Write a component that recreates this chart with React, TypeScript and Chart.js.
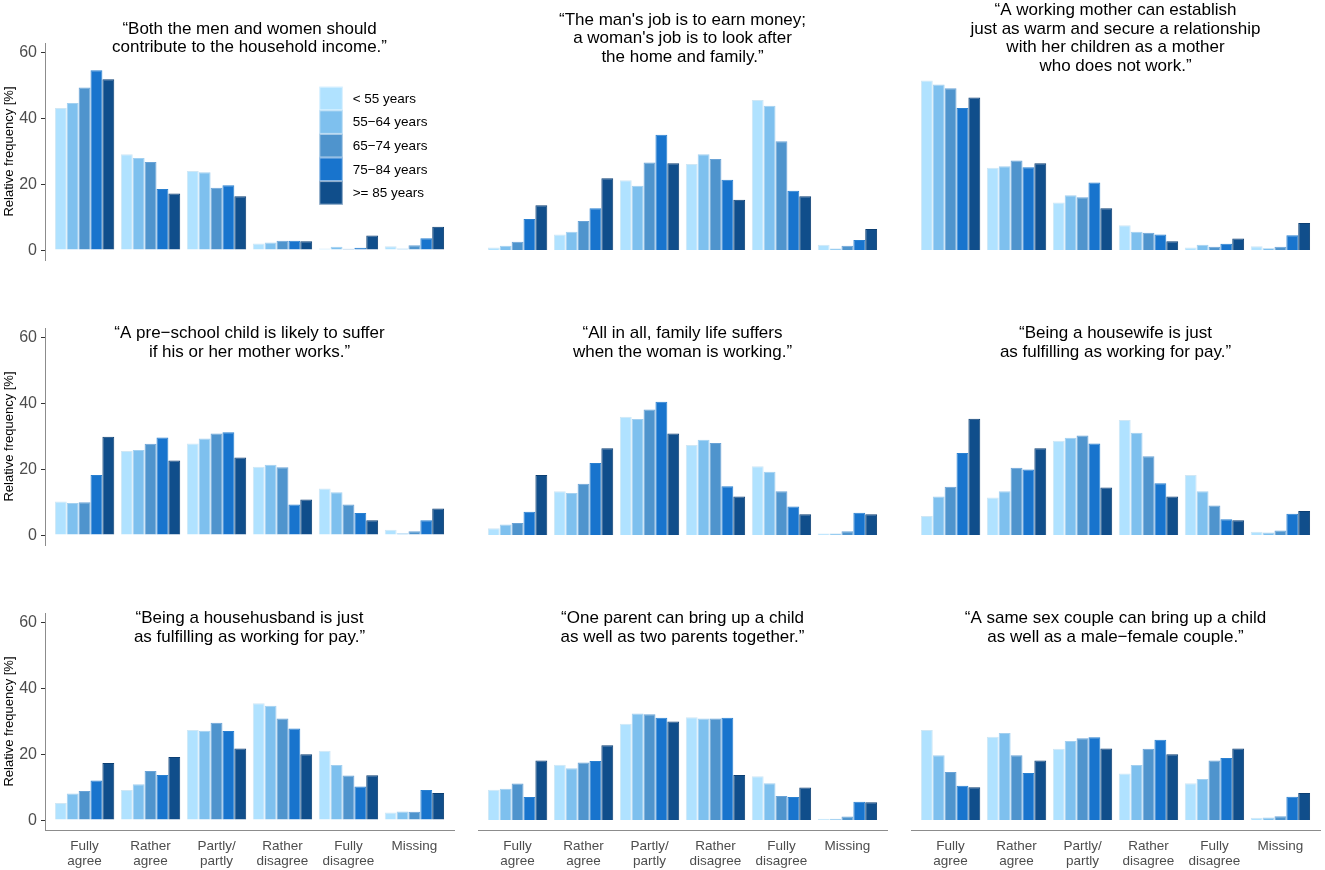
import React, { useEffect, useRef } from "react";
import { Chart, registerables } from "chart.js";

Chart.register(...registerables);

const FONT = '"Liberation Sans", Arial, Helvetica, sans-serif';
Chart.defaults.font.family = FONT;

const categories: string[][] = [
  ["Fully", "agree"],
  ["Rather", "agree"],
  ["Partly/", "partly"],
  ["Rather", "disagree"],
  ["Fully", "disagree"],
  ["Missing"],
];
const ageGroups = ["< 55 years", "55\u221264 years", "65\u221274 years", "75\u221284 years", ">= 85 years"];
const ageColors = ["#B0E2FF", "#7EC0EE", "#4F94CD", "#1874CD", "#104E8B"];
const ageBorders = ["#cfe7f5", "#a3d0f0", "#6aa3d6", "#2a80d0", "#0c3f73"];
const yTicks = [0, 20, 40, 60];
const yMin = -3;
const yMax = 62.8;

// rows = answer categories (Fully agree ... Missing), columns = age groups (<55 ... >=85)
const q1 = [
  [43.1, 44.6, 49.3, 54.5, 51.8],
  [29.1, 27.9, 26.7, 18.5, 17.2],
  [24.0, 23.6, 18.9, 19.7, 16.3],
  [2.0, 2.3, 2.8, 2.8, 2.7],
  [0.5, 1.0, 0.4, 0.7, 4.4],
  [1.2, 0.5, 1.5, 3.6, 7.1],
];
const q2 = [
  [0.8, 1.3, 2.5, 9.4, 13.6],
  [4.7, 5.6, 8.8, 12.7, 21.8],
  [21.2, 19.5, 26.6, 35.0, 26.3],
  [26.1, 29.1, 27.6, 21.3, 15.3],
  [45.5, 43.8, 33.0, 18.0, 16.3],
  [1.6, 0.5, 1.3, 3.1, 6.4],
];
const q3 = [
  [51.4, 50.2, 49.1, 43.1, 46.3],
  [25.0, 25.4, 27.2, 25.1, 26.3],
  [14.4, 16.6, 16.0, 20.5, 12.7],
  [7.5, 5.6, 5.3, 4.7, 2.7],
  [0.8, 1.6, 1.0, 1.9, 3.5],
  [1.2, 0.6, 1.0, 4.5, 8.2],
];
const q4 = [
  [10.2, 9.7, 10.0, 18.2, 29.8],
  [25.5, 25.8, 27.7, 29.6, 22.6],
  [27.8, 29.3, 30.8, 31.2, 23.5],
  [20.7, 21.3, 20.6, 9.3, 10.8],
  [14.1, 13.0, 9.3, 6.7, 4.5],
  [1.6, 0.6, 1.2, 4.5, 8.1],
];
const q5 = [
  [2.1, 3.2, 3.7, 7.1, 18.2],
  [13.3, 12.8, 15.6, 21.9, 26.3],
  [35.9, 35.2, 38.1, 40.4, 30.8],
  [27.3, 28.9, 27.9, 14.8, 11.7],
  [20.9, 19.2, 13.3, 8.7, 6.3],
  [0.5, 0.5, 1.2, 6.8, 6.3],
];
const q6 = [
  [5.8, 11.7, 14.7, 24.9, 35.3],
  [11.4, 13.3, 20.4, 19.9, 26.3],
  [28.6, 29.5, 30.2, 27.8, 14.4],
  [34.9, 31.0, 23.9, 15.7, 11.7],
  [18.2, 13.3, 9.0, 4.8, 4.5],
  [1.0, 0.8, 1.4, 6.5, 7.3],
];
const q7 = [
  [5.2, 8.1, 8.8, 12.0, 17.3],
  [9.1, 10.9, 14.9, 13.7, 19.1],
  [27.3, 27.1, 29.5, 27.0, 21.7],
  [35.4, 34.7, 30.8, 27.8, 20.0],
  [21.0, 16.7, 13.5, 10.2, 13.6],
  [2.3, 2.6, 2.5, 9.1, 8.2],
];
const q8 = [
  [9.2, 9.5, 11.1, 7.0, 18.1],
  [16.8, 15.7, 17.5, 17.9, 22.7],
  [29.2, 32.3, 32.1, 31.0, 29.9],
  [31.2, 30.8, 30.8, 31.0, 13.7],
  [13.3, 11.2, 7.3, 7.0, 9.9],
  [0.4, 0.4, 1.1, 5.6, 5.4],
];
const q9 = [
  [27.3, 19.7, 14.6, 10.4, 10.0],
  [25.3, 26.4, 19.7, 14.3, 18.1],
  [21.6, 24.0, 24.8, 25.1, 21.7],
  [14.1, 16.7, 21.6, 24.4, 20.0],
  [11.2, 12.5, 18.1, 18.8, 21.7],
  [0.7, 0.8, 1.2, 7.1, 8.2],
];

const statements: string[][] = [
  ["\u201CBoth the men and women should", "contribute to the household income.\u201D"],
  ["\u201CThe man's job is to earn money;", "a woman's job is to look after", "the home and family.\u201D"],
  ["\u201CA working mother can establish", "just as warm and secure a relationship", "with her children as a mother", "who does not work.\u201D"],
  ["\u201CA pre\u2212school child is likely to suffer", "if his or her mother works.\u201D"],
  ["\u201CAll in all, family life suffers", "when the woman is working.\u201D"],
  ["\u201CBeing a housewife is just", "as fulfilling as working for pay.\u201D"],
  ["\u201CBeing a househusband is just", "as fulfilling as working for pay.\u201D"],
  ["\u201COne parent can bring up a child", "as well as two parents together.\u201D"],
  ["\u201CA same sex couple can bring up a child", "as well as a male\u2212female couple.\u201D"],
];

const panels = [q1, q2, q3, q4, q5, q6, q7, q8, q9];

// layout
const plotLefts = [45, 478, 911];
const plotTops = [43, 328, 613];
const plotW = 409;
const plotH = 217;
const titleOffsets = [0, 19.3, 19.3];

const titlePlugin = {
  id: "panelTitle",
  afterDraw(chart: any, _args: any, opts: any) {
    if (!opts || !opts.lines) return;
    const { ctx, chartArea } = chart;
    const cx = (chartArea.left + chartArea.right) / 2;
    const lines: string[] = opts.lines;
    const n = lines.length;
    const lh = 18.5;
    ctx.save();
    ctx.font = `17px ${FONT}`;
    ctx.fillStyle = "#000000";
    ctx.textAlign = "center";
    ctx.textBaseline = "alphabetic";
    for (let i = 0; i < n; i++) {
      ctx.fillText(lines[i], cx, chartArea.top + opts.offset + (i - (n - 1) / 2) * lh);
    }
    ctx.restore();
  },
};

const legendPlugin = {
  id: "ageLegend",
  afterDraw(chart: any, _args: any, opts: any) {
    if (!opts || !opts.show) return;
    const { ctx, chartArea } = chart;
    const x0 = chartArea.left + 274.3;
    const y0 = chartArea.top + 43.7;
    const sw = 23.5;
    const sh = 23.6;
    ctx.save();
    chart.data.datasets.forEach((ds: any, i: number) => {
      const y = y0 + i * sh;
      ctx.fillStyle = ds.backgroundColor;
      ctx.fillRect(x0, y, sw, sh);
      ctx.strokeStyle = "rgba(255,255,255,0.55)";
      ctx.lineWidth = 1;
      ctx.strokeRect(x0 + 0.5, y + 0.5, sw - 1, sh - 1);
      ctx.fillStyle = "#000000";
      ctx.font = `13.5px ${FONT}`;
      ctx.textAlign = "left";
      ctx.textBaseline = "middle";
      ctx.fillText(ds.label, x0 + sw + 9.9, y + sh / 2 + 0.5);
    });
    ctx.restore();
  },
};

function Panel({ index }: { index: number }) {
  const ref = useRef<HTMLCanvasElement | null>(null);
  const row = Math.floor(index / 3);
  const col = index % 3;
  const isLeft = col === 0;
  const isBottom = row === 2;
  const padL = isLeft ? 45 : 12;
  const padR = 4;
  const padT = 43;
  const padB = isBottom ? 38 : 16;
  const width = padL + plotW + padR;
  const height = padT + plotH + padB;
  const left = plotLefts[col] - padL;
  const top = plotTops[row] - padT;

  useEffect(() => {
    const q = panels[index];
    const datasets = ageGroups.map((label, s) => ({
      label,
      data: q.map((r, c) => ({ x: c + 1, y: r[s] })),
      backgroundColor: ageColors[s],
      borderColor: ageBorders[s],
      borderWidth: 1,
      borderSkipped: "start",
      barPercentage: 1,
      categoryPercentage: 0.9,
    }));
    const chart = new Chart(ref.current as HTMLCanvasElement, {
      type: "bar",
      data: { datasets } as any,
      plugins: [titlePlugin, legendPlugin] as any,
      options: {
        responsive: false,
        animation: false,
        devicePixelRatio: 1,
        layout: {
          padding: { left: isLeft ? 0 : padL, right: padR, top: padT, bottom: isBottom ? 0 : padB },
        },
        plugins: {
          legend: { display: false },
          tooltip: { enabled: false },
          panelTitle: { lines: statements[index], offset: titleOffsets[row] },
          ageLegend: { show: index === 0 },
        } as any,
        scales: {
          x: {
            type: "linear",
            min: 0.4,
            max: 6.6,
            offset: false,
            display: isBottom,
            afterBuildTicks: (s: any) => {
              s.ticks = categories.map((_c, c) => ({ value: c + 1 }));
            },
            afterFit: (s: any) => {
              s.height = isBottom ? padB : 0;
            },
            ticks: {
              autoSkip: false,
              maxRotation: 0,
              minRotation: 0,
              padding: 9,
              color: "#4d4d4d",
              font: { size: 13.5, lineHeight: 1.11 },
              callback: (_v: any, i: number) => categories[i],
            },
            grid: { display: false, drawTicks: false, offset: false },
            border: { display: true, color: "#8c8c8c", width: 1 },
          },
          y: {
            type: "linear",
            min: yMin,
            max: yMax,
            display: isLeft,
            afterBuildTicks: (s: any) => {
              s.ticks = yTicks.map((v) => ({ value: v }));
            },
            afterFit: (s: any) => {
              s.width = isLeft ? padL : 0;
            },
            ticks: { color: "#4d4d4d", padding: 4, font: { size: 16 } },
            grid: { drawOnChartArea: false, drawTicks: true, tickLength: 4, color: "#333333" },
            border: { display: true, color: "#8c8c8c", width: 1 },
            title: {
              display: true,
              text: "Relative frequency [%]",
              color: "#000000",
              font: { size: 13, lineHeight: 1.2 },
              padding: { top: 2, bottom: 0 },
            },
          },
        } as any,
      },
    });
    return () => chart.destroy();
  }, [index]);

  return (
    <canvas
      ref={ref}
      width={width}
      height={height}
      style={{ position: "absolute", left, top, width, height }}
    />
  );
}

export default function App() {
  return (
    <div
      style={{
        position: "absolute",
        left: 0,
        top: 0,
        width: 1325,
        height: 870,
        overflow: "hidden",
        background: "#ffffff",
      }}
    >
      {panels.map((_p, i) => (
        <Panel key={i} index={i} />
      ))}
    </div>
  );
}
